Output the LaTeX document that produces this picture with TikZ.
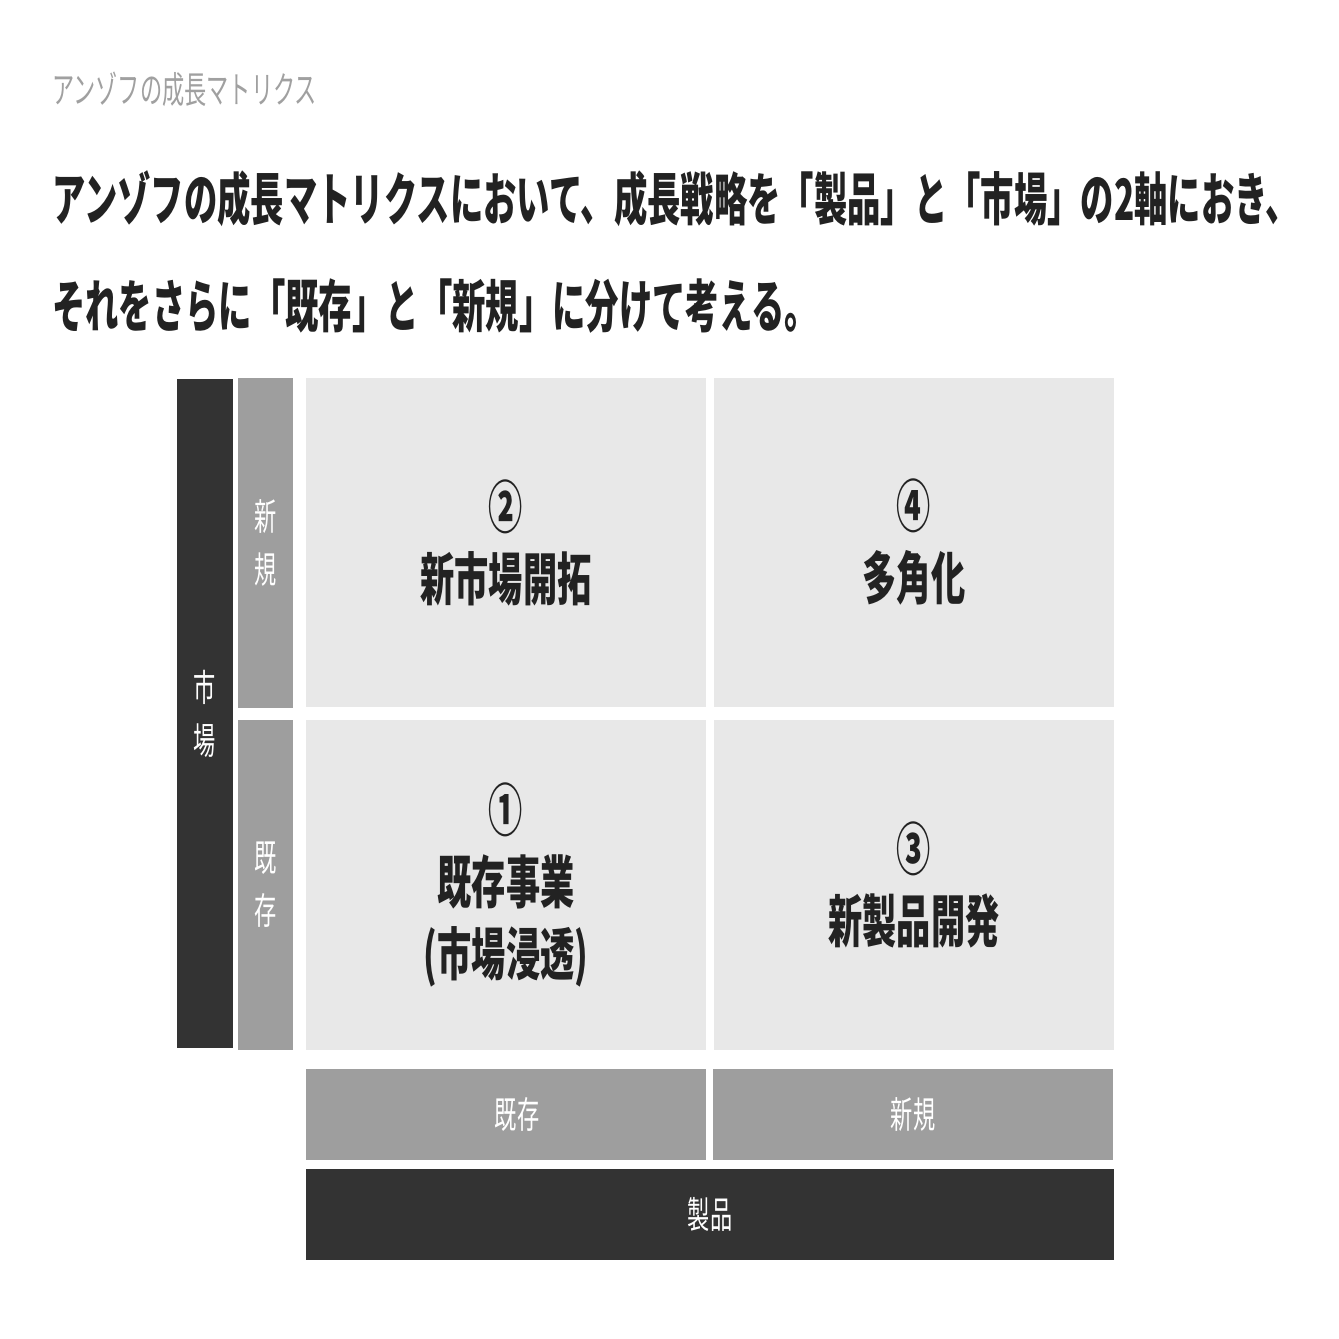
\documentclass[tikz,border=0pt]{standalone}
\usepackage{fontspec}
\usepackage{tikz}
\usetikzlibrary{positioning}
\newfontfamily\jpfont[FakeStretch=0.6]{Noto Sans CJK JP}
\newfontfamily\jpnarrow[FakeStretch=0.585]{Noto Sans CJK JP}
\definecolor{bardark}{HTML}{333333}
\definecolor{bargray}{HTML}{9E9E9E}
\definecolor{cellgray}{HTML}{E8E8E8}
\definecolor{inkdark}{HTML}{222222}
\definecolor{titlegray}{HTML}{A0A0A0}
\tikzset{x=1pt,y=-1pt,node distance=8pt}
\tikzset{
  heading/.style={anchor=west,inner sep=0pt,text=titlegray,font=\jpfont\fontsize{37}{40}\selectfont},
  lead/.style={anchor=west,inner sep=0pt,text=inkdark,font=\jpnarrow\bfseries\fontsize{57}{70}\selectfont},
  cellbox/.style={fill=cellgray,inner sep=0pt,outer sep=0pt,minimum width=400pt,minimum height=329pt,
    align=center,text=inkdark,font=\jpfont\bfseries\fontsize{57}{72}\selectfont},
  sidebar/.style={fill=bargray,inner sep=0pt,outer sep=0pt,minimum width=55pt,minimum height=330pt,
    align=center,text=white,font=\jpfont\fontsize{37}{53}\selectfont},
  footbar/.style={fill=bargray,inner sep=0pt,outer sep=0pt,minimum width=400pt,minimum height=91pt,
    text=white,font=\jpfont\fontsize{37}{53}\selectfont},
  axisbar/.style={fill=bardark,inner sep=0pt,outer sep=0pt,align=center,text=white,
    font=\jpfont\fontsize{37}{53}\selectfont}
}
\begin{document}
\begin{tikzpicture}
\useasboundingbox (0,0) rectangle (1339,1339);
% headings
\node[heading] (title) at (52,89) {アンゾフの成長マトリクス};
\node[lead] (lineone) at (52,199) {アンゾフの成長マトリクスにおいて、成長戦略を「製品」と「市場」の2軸におき、};
\node[lead] (linetwo) at (52,306) {それをさらに「既存」と「新規」に分けて考える。};
% matrix cells
\node[cellbox,anchor=north west] (newmkt) at (306,378) {②\\新市場開拓};
\node[cellbox,right=of newmkt] (divers) {④\\多角化};
\node[cellbox,below=13pt of newmkt,minimum height=330pt] (penetr) {①\\既存事業\\(市場浸透)};
\node[cellbox,right=of penetr,minimum height=330pt] (newprod) {③\\新製品開発};
% market axis
\node[sidebar,left=13pt of newmkt] (mktnew) {新\\規};
\node[sidebar,left=13pt of penetr] (mktold) {既\\存};
\node[axisbar,minimum width=56pt,minimum height=669pt] (market) at (205,713.5) {市\\場};
% product axis
\node[footbar,below=19pt of penetr] (prodold) {\hspace*{22pt}既存};
\node[footbar,below=19pt of newprod,xshift=-1pt] (prodnew) {新規};
\node[axisbar,minimum width=808pt,minimum height=91pt] (product) at (710,1214.5) {製品};
\end{tikzpicture}
\end{document}
